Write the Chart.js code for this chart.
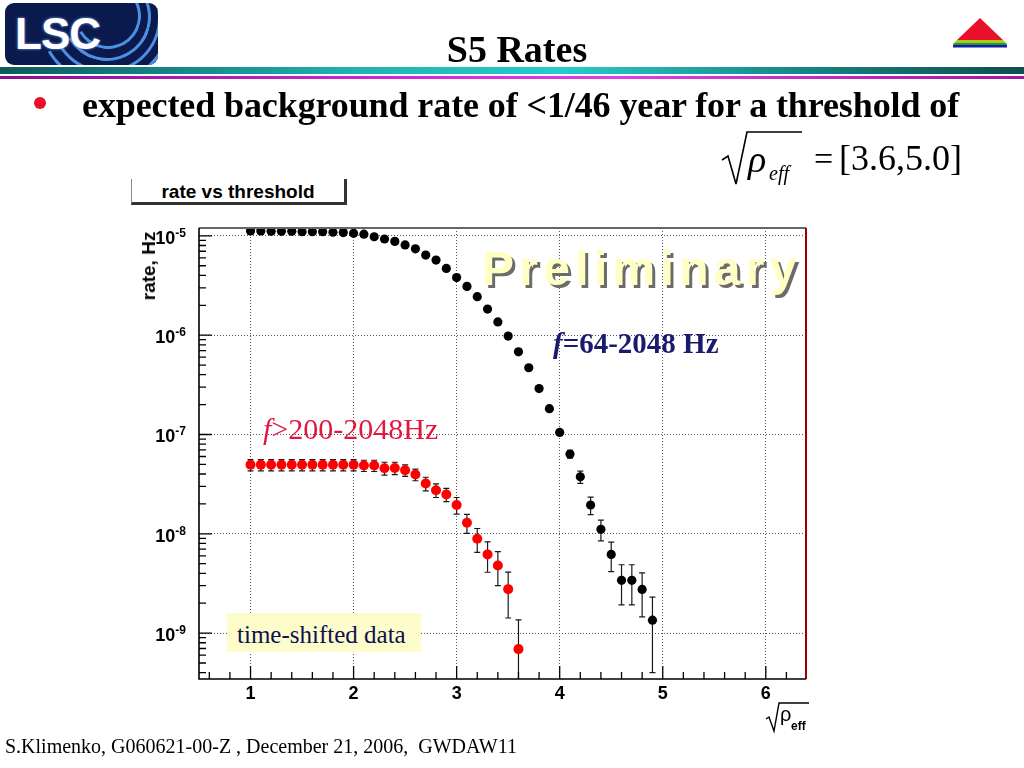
<!DOCTYPE html>
<html>
<head>
<meta charset="utf-8">
<script src="https://cdn.jsdelivr.net/npm/chart.js@4.4.1/dist/chart.umd.min.js"></script>
<style>
  body { margin: 0; width: 1024px; height: 768px; position: relative; overflow: hidden; background: #fff; font-family: "Liberation Serif", serif; }
  .abs { position: absolute; white-space: nowrap; line-height: 1; }
  #chart { position: absolute; left: 0; top: 0; }
  #logo { left: 5px; top: 3px; width: 153px; height: 62px; background: #0b1a4c; border-radius: 9px; overflow: hidden; }
  #logo .txt { position: absolute; left: 10px; top: 6px; font: bold 44px "Liberation Sans", sans-serif; color: #fff; text-shadow: 0 0 3px #6fa8ff; letter-spacing: -1px; }
  #logo .arc { position: absolute; border-radius: 50%; border: 3px solid transparent; border-bottom-color: #4d8fe0; border-right-color: #4d8fe0; transform: rotate(15deg); }
  #title { left: 0; width: 1034px; top: 27px; text-align: center; font: bold 38px "Liberation Serif", serif; }
  #band1 { left: 0; top: 67px; width: 1024px; height: 7px; background: linear-gradient(to right, #0e5a5a, #1fb3b3 35%, #28caca 55%, #168080 80%, #0e4e4e); }
  #band2 { left: 0; top: 76px; width: 1024px; height: 3px; background: linear-gradient(to right, #8a108a, #d22ad2 40%, #e040e0 60%, #a018a0); }
  #bullet { left: 34px; top: 97px; width: 12px; height: 12px; border-radius: 50%; background: #e8102a; }
  #line1 { left: 82px; top: 84px; font: bold 36px "Liberation Serif", serif; letter-spacing: -0.1px; }
  #boxTitle { left: 131px; top: 179px; width: 212px; height: 21px; border-left: 1px solid #888; border-right: 3px solid #333; border-bottom: 3px solid #333; background: #fff; font: bold 19px "Liberation Sans", sans-serif; text-align: center; padding-top: 2px; }
  #ylab { left: 149px; top: 266px; transform: translate(-50%, -50%) rotate(-90deg); font: bold 19px "Liberation Sans", sans-serif; }
  #prelim { left: 482px; top: 241px; font: bold 48px "Liberation Sans", sans-serif; letter-spacing: 5.3px; color: #ffffc4; text-shadow: 3px 3px 0 #6b6b6b; }
  #ann1 { left: 553px; top: 327px; font: bold 29px "Liberation Serif", serif; color: #1a1a6e; }
  #ann2 { left: 263px; top: 412px; font: 30px "Liberation Serif", serif; color: #e3173e; }
  #tsd { left: 227px; top: 613px; width: 194px; height: 39px; background: #fdfccb; }
  #tsd span { position: absolute; left: 10px; top: 8px; font: 25px "Liberation Serif", serif; color: #101050; }
  #footer { left: 5px; top: 735px; font: 20px "Liberation Serif", serif; }
  #formula { left: 720px; top: 126px; width: 250px; height: 62px; }
</style>
</head>
<body>
<canvas id="chart" width="1024" height="768"></canvas>

<div id="logo" class="abs">
  <div class="arc" style="left:70px;top:-20px;width:60px;height:60px"></div>
  <div class="arc" style="left:58px;top:-30px;width:82px;height:82px"></div>
  <div class="arc" style="left:46px;top:-40px;width:104px;height:104px"></div>
  <div class="arc" style="left:34px;top:-50px;width:126px;height:126px"></div>
  <div class="txt">LSC</div>
</div>
<div id="title" class="abs">S5 Rates</div>
<svg class="abs" style="left:950px;top:14px" width="62" height="36">
  <polygon points="30,4 53,26 7,26" fill="#e8102a"/>
  <polygon points="7,26 53,26 56,29 4,29" fill="#a8cc10"/>
  <polygon points="4,29 56,29 57,31 3,31" fill="#1e9a3c"/>
  <rect x="3" y="31" width="54" height="2.5" fill="#1a1ab0"/>
</svg>
<div id="band1" class="abs"></div>
<div id="band2" class="abs"></div>
<div id="bullet" class="abs"></div>
<div id="line1" class="abs">expected background rate of &lt;1/46 year for a threshold of</div>

<svg id="formula" class="abs">
  <path d="M2,34 L8,30 L16,58 L27,6 L82,6" fill="none" stroke="#000" stroke-width="1.6"/>
  <text x="28" y="46" font-family="Liberation Serif" font-style="italic" font-size="38">ρ</text>
  <text x="49" y="54" font-family="Liberation Serif" font-style="italic" font-size="20">eff</text>
  <text x="94" y="44" font-family="Liberation Serif" font-size="34">=</text>
  <text x="119" y="44" font-family="Liberation Serif" font-size="36">[3.6,5.0]</text>
</svg>

<div id="boxTitle" class="abs">rate vs threshold</div>
<div id="ylab" class="abs">rate, Hz</div>
<div id="prelim" class="abs">Preliminary</div>
<div id="ann1" class="abs"><i>f</i>=64-2048 Hz</div>
<div id="ann2" class="abs"><i>f</i>&gt;200-2048Hz</div>
<div id="tsd" class="abs"><span>time-shifted data</span></div>

<svg class="abs" style="left:764px;top:698px" width="50" height="36">
  <path d="M2,21 L5,19 L10,33 L15,5 L45,5" fill="none" stroke="#000" stroke-width="1.4"/>
  <text x="16" y="23" font-family="Liberation Sans" font-size="20">ρ</text>
  <text x="27" y="32" font-family="Liberation Sans" font-weight="bold" font-size="12">eff</text>
</svg>

<div id="footer" class="abs">S.Klimenko, G060621-00-Z , December 21, 2006,&nbsp; GWDAW11</div>

<script>
// sqrt(rho_eff) thresholds
const thresholds = [1.0, 1.1, 1.2, 1.3, 1.4, 1.5, 1.6, 1.7, 1.8, 1.9,
                    2.0, 2.1, 2.2, 2.3, 2.4, 2.5, 2.6, 2.7, 2.8, 2.9,
                    3.0, 3.1, 3.2, 3.3, 3.4, 3.5, 3.6, 3.7, 3.8, 3.9,
                    4.0, 4.1, 4.2, 4.3, 4.4, 4.5, 4.6, 4.7, 4.8, 4.9];

// f = 64-2048 Hz (black)
const blackRate = [1.12e-5, 1.12e-5, 1.11e-5, 1.11e-5, 1.11e-5, 1.10e-5, 1.10e-5, 1.10e-5, 1.09e-5, 1.08e-5,
                   1.06e-5, 1.04e-5, 9.8e-6, 9.3e-6, 8.8e-6, 8.1e-6, 7.4e-6, 6.4e-6, 5.7e-6, 4.7e-6,
                   3.8e-6, 3.1e-6, 2.44e-6, 1.83e-6, 1.36e-6, 9.8e-7, 6.8e-7, 4.7e-7, 2.9e-7, 1.82e-7,
                   1.05e-7, 6.35e-8, 3.75e-8, 1.95e-8, 1.11e-8, 6.2e-9, 3.4e-9, 3.4e-9, 2.75e-9, 1.35e-9];
const blackErr = [0, 0, 0, 0, 0, 0, 0, 0, 0, 0,
                  0, 0, 0, 0, 0, 0, 0, 0, 0, 0,
                  0, 0, 0, 0, 0, 0, 0, 0, 0, 0,
                  7e-9, 5.8e-9, 5.3e-9, 3.9e-9, 2.6e-9, 2.05e-9, 1.48e-9, 1.48e-9, 1.29e-9, 9.5e-10];

// f > 200-2048 Hz (red)
const redThresholds = [1.0, 1.1, 1.2, 1.3, 1.4, 1.5, 1.6, 1.7, 1.8, 1.9,
                       2.0, 2.1, 2.2, 2.3, 2.4, 2.5, 2.6, 2.7, 2.8, 2.9,
                       3.0, 3.1, 3.2, 3.3, 3.4, 3.5, 3.6];
const redRate = [4.95e-8, 4.95e-8, 4.95e-8, 4.95e-8, 4.95e-8, 4.95e-8, 4.95e-8, 4.95e-8, 4.95e-8, 4.95e-8,
                 4.95e-8, 4.87e-8, 4.87e-8, 4.57e-8, 4.6e-8, 4.36e-8, 3.95e-8, 3.21e-8, 2.75e-8, 2.49e-8,
                 1.95e-8, 1.29e-8, 8.9e-9, 6.2e-9, 4.8e-9, 2.77e-9, 6.9e-10];
const redErr = [6.4e-9, 6.4e-9, 6.4e-9, 6.4e-9, 6.4e-9, 6.4e-9, 6.4e-9, 6.4e-9, 6.4e-9, 6.4e-9,
                6.4e-9, 6.3e-9, 6.3e-9, 6.8e-9, 6.5e-9, 5.8e-9, 5.3e-9, 5.0e-9, 4.3e-9, 3.8e-9,
                3.7e-9, 2.8e-9, 2.4e-9, 2.1e-9, 1.8e-9, 1.35e-9, 6.7e-10];

const xTicks = [1, 2, 3, 4, 5, 6];
const yTicks = [1e-9, 1e-8, 1e-7, 1e-6, 1e-5];
const yTickExp = ["-9", "-8", "-7", "-6", "-5"];

function toPoints(xs, ys, es) {
    return xs.map((x, i) => ({ x: x, y: ys[i], err: es[i] }));
}

const errorBars = {
    id: "errorBars",
    beforeDatasetsDraw(chart) {
        const { ctx, chartArea: a, scales: { x, y } } = chart;
        ctx.save();
        ctx.beginPath();
        ctx.rect(a.left, a.top, a.right - a.left, a.bottom - a.top);
        ctx.clip();
        ctx.strokeStyle = "#1a1a1a";
        ctx.lineWidth = 1.2;
        chart.data.datasets.forEach(ds => {
            ds.data.forEach(p => {
                if (!p.err) return;
                const px = x.getPixelForValue(p.x);
                const top = y.getPixelForValue(p.y + p.err);
                const lo = p.y - p.err;
                const bottom = lo > 0 ? y.getPixelForValue(lo) : a.bottom + 5;
                ctx.beginPath();
                ctx.moveTo(px, top);
                ctx.lineTo(px, bottom);
                ctx.moveTo(px - 3, top);
                ctx.lineTo(px + 3, top);
                if (lo > 0) {
                    ctx.moveTo(px - 3, bottom);
                    ctx.lineTo(px + 3, bottom);
                }
                ctx.stroke();
            });
        });
        ctx.restore();
    }
};

// ROOT style frame: ticks inside, superscript decade labels
const rootAxes = {
    id: "rootAxes",
    afterDraw(chart) {
        const { ctx, chartArea: a, scales: { x, y } } = chart;
        ctx.save();
        ctx.strokeStyle = "#000";
        ctx.lineWidth = 1.3;
        ctx.beginPath();
        for (let i = 3; i <= 31; i++) {
            const px = x.getPixelForValue(i / 5);
            const len = i % 5 === 0 ? 13 : 7;
            ctx.moveTo(px, a.bottom);
            ctx.lineTo(px, a.bottom - len);
        }
        for (let d = -10; d <= -5; d++) {
            for (let k = 1; k <= 9; k++) {
                const v = k * Math.pow(10, d);
                if (v < y.min || v > y.max) continue;
                const py = y.getPixelForValue(v);
                ctx.moveTo(a.left, py);
                ctx.lineTo(a.left + (k === 1 ? 13 : 7), py);
            }
        }
        ctx.stroke();

        ctx.lineWidth = 2;
        ctx.strokeStyle = "#666";
        ctx.beginPath(); ctx.moveTo(a.left, a.top); ctx.lineTo(a.right, a.top); ctx.stroke();
        ctx.strokeStyle = "#9a0000";
        ctx.beginPath(); ctx.moveTo(a.right, a.top); ctx.lineTo(a.right, a.bottom); ctx.stroke();
        ctx.strokeStyle = "#000";
        ctx.lineWidth = 1.6;
        ctx.beginPath();
        ctx.moveTo(a.left, a.top); ctx.lineTo(a.left, a.bottom); ctx.lineTo(a.right, a.bottom);
        ctx.stroke();

        ctx.fillStyle = "#000";
        ctx.textBaseline = "alphabetic";
        yTicks.forEach((v, i) => {
            const py = y.getPixelForValue(v);
            ctx.font = "bold 12px 'Liberation Sans'";
            const ew = ctx.measureText(yTickExp[i]).width;
            ctx.textAlign = "left";
            ctx.fillText(yTickExp[i], 186 - ew, py + 1);
            ctx.font = "bold 18px 'Liberation Sans'";
            ctx.textAlign = "right";
            ctx.fillText("10", 186 - ew, py + 8);
        });
        ctx.restore();
    }
};

function drawRateChart() {
    new Chart(document.getElementById("chart"), {
        type: "scatter",
        data: {
            datasets: [{
                label: "f=64-2048 Hz",
                data: toPoints(thresholds, blackRate, blackErr),
                pointRadius: 4.6,
                pointBackgroundColor: "#000",
                pointBorderWidth: 0
            }, {
                label: "f>200-2048Hz",
                data: toPoints(redThresholds, redRate, redErr),
                pointRadius: 5,
                pointBackgroundColor: "#ff0000",
                pointBorderWidth: 0
            }]
        },
        options: {
            responsive: false,
            animation: false,
            devicePixelRatio: 1,
            layout: { padding: { top: 228, right: 218, left: 0, bottom: 0 } },
            plugins: { legend: { display: false }, tooltip: { enabled: false } },
            scales: {
                x: {
                    type: "linear",
                    min: 0.5,
                    max: 6.39,
                    afterBuildTicks: s => { s.ticks = xTicks.map(v => ({ value: v })); },
                    afterFit: s => { s.height = 89; },
                    grid: { color: "#555", lineWidth: 1, drawTicks: false },
                    border: { display: false, dash: [1, 2] },
                    ticks: {
                        padding: 4,
                        color: "#000",
                        font: { family: "Liberation Sans", weight: "bold", size: 18 },
                        callback: v => String(v)
                    }
                },
                y: {
                    type: "logarithmic",
                    min: 3.45e-10,
                    max: 1.2e-5,
                    afterBuildTicks: s => { s.ticks = yTicks.map(v => ({ value: v })); },
                    afterFit: s => { s.width = 199; },
                    grid: { color: "#555", lineWidth: 1, drawTicks: false },
                    border: { display: false, dash: [1, 2] },
                    ticks: { display: false }
                }
            }
        },
        plugins: [errorBars, rootAxes]
    });
}

drawRateChart();
</script>
</body>
</html>
